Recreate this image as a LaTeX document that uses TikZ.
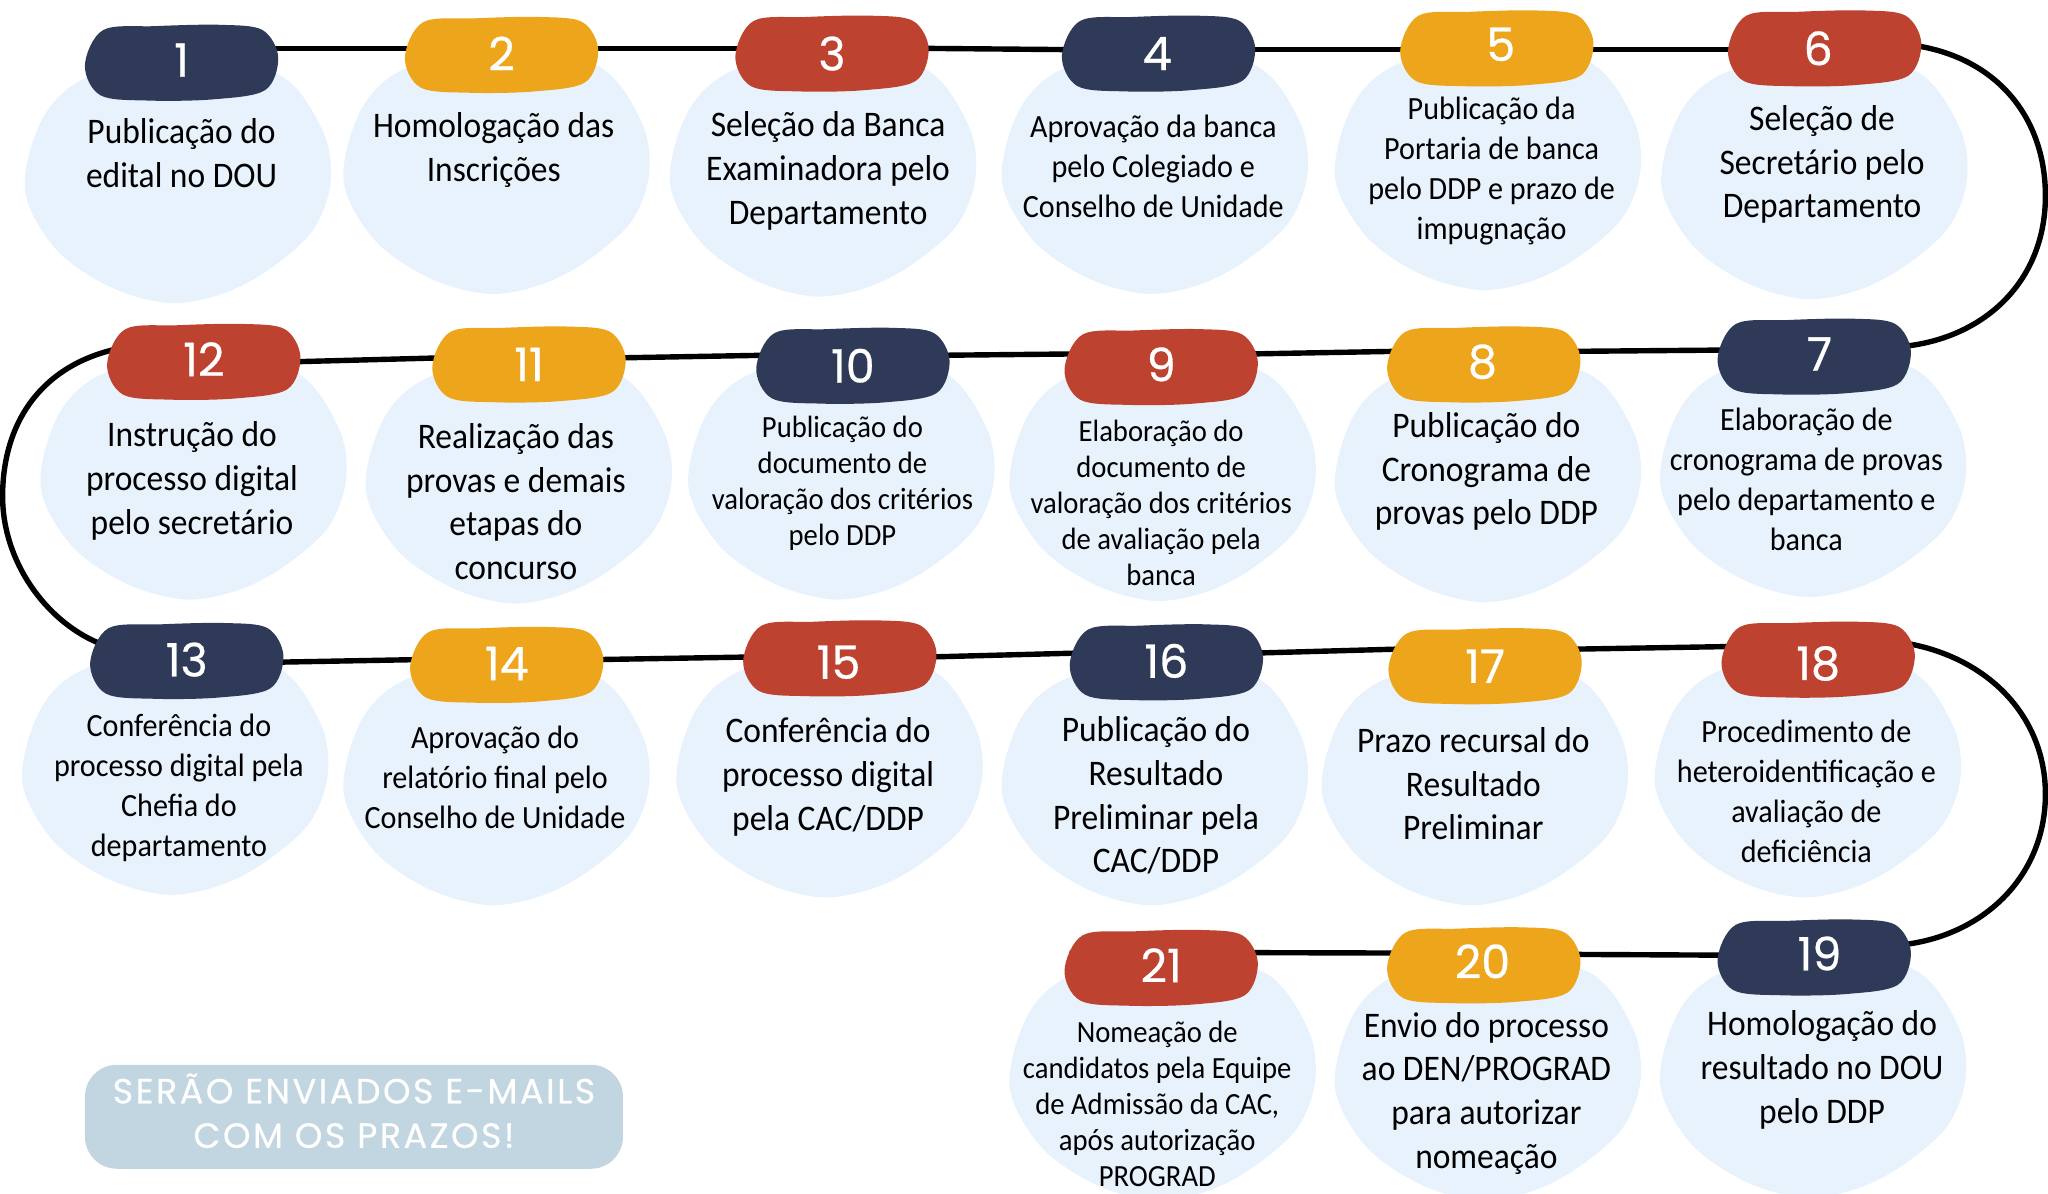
\documentclass[tikz,border=0pt]{standalone}
\usepackage{fontspec}
\usetikzlibrary{backgrounds,calc}
\newfontfamily\stepfont[FakeStretch=0.93]{Carlito}
\newfontfamily\pillfont[FakeBold=0.6]{Poppins}
\newfontfamily\bannerfont[LetterSpace=7,FakeBold=0.4]{Poppins}
\definecolor{navyc}{HTML}{2F3A58}
\definecolor{orangec}{HTML}{EDA51C}
\definecolor{redc}{HTML}{BD4230}
\definecolor{blobc}{HTML}{E8F2FD}
\definecolor{bannerc}{HTML}{C1D6E1}

\begin{document}
\begin{tikzpicture}
  [
  x=0.65306pt, y=-0.65306pt,
  pill/.style={rectangle, minimum height=37pt, minimum width=96.5pt, inner sep=0pt},
  numtext/.style={inner sep=0pt, text=white, font=\pillfont\fontsize{23}{24}\selectfont},
  link/.style={draw=black, line width=2.7pt, line cap=round},
  stepbig/.style={align=center, inner sep=0pt, font=\stepfont\fontsize{18}{21.9}\selectfont},
  stepmid/.style={align=center, inner sep=0pt, font=\stepfont\fontsize{16.2}{20}\selectfont},
  stepsmall/.style={align=center, inner sep=0pt, font=\stepfont\fontsize{15.4}{18}\selectfont},
  banner/.style={rectangle, minimum height=52pt, minimum width=269pt, rounded corners=16pt, fill=bannerc, text=white, align=center, inner sep=0pt, font=\bannerfont\fontsize{17.5}{22.2}\selectfont}
  ]
\useasboundingbox (0,0) rectangle (1568,914);

% blobs behind everything
\begin{scope}[on background layer]
\foreach \n/\x/\y in {1/135/135,2/379/128,3/629/130,4/883/128,5/1138/125,6/1388/132,
  7/1387/360,8/1138/364,9/889/363,10/643/362,11/396/365,12/147/362,
  13/133/588,14/379/596,15/634/590,16/883/596,17/1128/596,18/1383/590,
  19/1387/820,20/1138/822,21/889/822} {
  \fill[blobc,shift={(\x,\y)}] plot[smooth cycle,tension=0.55] coordinates {
    (0,-90) (78,-78) (112,-35) (118,5) (104,42) (70,72) (35,90)
    (-5,97) (-50,85) (-92,56) (-116,10) (-102,-45) (-68,-76)};
}
\end{scope}

% numbered pills
\foreach \n/\x/\y/\c/\nx/\ny in {1/139/48/navyc/139/46,2/384/42/orangec/384/41,3/637/41/redc/637/41,4/887/41/navyc/886/41,5/1146/37/orangec/1149/34,6/1397/37/redc/1392/37,
  7/1389/273/navyc/1393/271,8/1136/279/orangec/1135/277,9/889/281/redc/889/279,10/653/280/navyc/653/280,11/405/279/orangec/405/279,12/156/277/redc/156/275,
  13/143/506/navyc/143/505,14/388/509/orangec/388/508,15/643/504/redc/642/507,16/893/507/navyc/893/506,17/1137/510/orangec/1137/510,18/1392/505/redc/1392/508,
  19/1389/733/navyc/1393/730,20/1136/739/orangec/1135/736,21/889/741/redc/889/739} {
  \fill[\c,shift={(\x,\y)}] plot[smooth cycle,tension=0.55] coordinates {
    (-60,-25) (-20,-28) (30,-29) (62,-25) (74,-4) (64,21) (25,28) (-25,29) (-62,25) (-74,2)};
  \node[pill] (pill\n) at (\x,\y) {};
  \node[numtext] (num\n) at (\nx,\ny) {\n};
}

% step texts
\node[stepbig] (text1) at (139,117) {Publicação do\\edital no DOU};
\node[stepbig] (text2) at (378,115) {Homologação das\\Inscrições};
\node[stepbig] (text3) at (634,131) {Seleção da Banca\\Examinadora pelo\\Departamento};
\node[stepmid] (text4) at (883,127) {Aprovação da banca\\pelo Colegiado e\\Conselho de Unidade};
\node[stepmid] (text5) at (1142,131) {Publicação da\\Portaria de banca\\pelo DDP e prazo de\\impugnação};
\node[stepbig] (text6) at (1395,126) {Seleção de\\Secretário pelo\\Departamento};
\node[stepmid] (text7) at (1383,367) {Elaboração de\\cronograma de provas\\pelo departamento e\\banca};
\node[stepbig] (text8) at (1138,361) {Publicação do\\Cronograma de\\provas pelo DDP};
\node[stepsmall] (text9) at (889,385) {Elaboração do\\documento de\\valoração dos critérios\\de avaliação pela\\banca};
\node[stepsmall] (text10) at (645,370) {Publicação do\\documento de\\valoração dos critérios\\pelo DDP};
\node[stepbig] (text11) at (395,384) {Realização das\\provas e demais\\etapas do\\concurso};
\node[stepbig] (text12) at (147,368) {Instrução do\\processo digital\\pelo secretário};
\node[stepmid] (text13) at (137,603) {Conferência do\\processo digital pela\\Chefia do\\departamento};
\node[stepmid] (text14) at (379,595) {Aprovação do\\relatório final pelo\\Conselho de Unidade};
\node[stepbig] (text15) at (634,595) {Conferência do\\processo digital\\pela CAC/DDP};
\node[stepbig] (text16) at (885,609) {Publicação do\\Resultado\\Preliminar pela\\CAC/DDP};
\node[stepbig] (text17) at (1128,600) {Prazo recursal do\\Resultado\\Preliminar};
\node[stepmid] (text18) at (1383,606) {Procedimento de\\heteroidentificação e\\avaliação de\\deficiência};
\node[stepbig] (text19) at (1395,819) {Homologação do\\resultado no DOU\\pelo DDP};
\node[stepbig] (text20) at (1138,837) {Envio do processo\\ao DEN/PROGRAD\\para autorizar\\nomeação};
\node[stepsmall] (text21) at (886,845) {Nomeação de\\candidatos pela Equipe\\de Admissão da CAC,\\após autorização\\PROGRAD};

\node[banner] (notice) at (271,855) {\raisebox{2.5pt}{\begin{tabular}{@{}c@{}}SERÃO ENVIADOS E-MAILS\\COM OS PRAZOS!\end{tabular}}};

% connectors, behind the pills
\begin{scope}[on background layer]
\foreach \a/\da/\b/\db in {1/-11/2/-5,2/-5/3/-4,3/-4/4/-3,4/-3/5/1,5/1/6/1} {
  \draw[link] ($(pill\a.east)+(-6,\da)$) -- ($(pill\b.west)+(6,\db)$);
}
\foreach \a/\da/\b/\db in {7/-5/8/-10,8/-10/9/-10,9/-10/10/-8,10/-8/11/-5,11/-5/12/0,
  21/-12/20/-9,20/-9/19/-1} {
  \draw[link] ($(pill\a.west)+(6,\da)$) -- ($(pill\b.east)+(-6,\db)$);
}
\foreach \a/\da/\b/\db in {13/1/14/-4,14/-4/15/-1,15/-1/16/-7,16/-7/17/-13,17/-13/18/-10} {
  \draw[link] ($(pill\a.east)+(-6,\da)$) -- ($(pill\b.west)+(6,\db)$);
}
\draw[link] ($(pill6.east)+(-4,-2)$) .. controls +(62,10) and (1566,90) .. (1566,150) .. controls (1566,215) and (1520,258) .. ($(pill7.east)+(-4,-8)$);
\draw[link] ($(pill12.west)+(4,-9)$) .. controls (30,282) and (2,325) .. (2,380) .. controls (2,430) and (35,475) .. ($(pill13.west)+(6,-14)$);
\draw[link] ($(pill18.east)+(-4,-12)$) .. controls +(62,12) and (1566,550) .. (1566,608) .. controls (1566,670) and (1520,715) .. ($(pill19.east)+(-4,-10)$);
\end{scope}

\end{tikzpicture}
\end{document}
